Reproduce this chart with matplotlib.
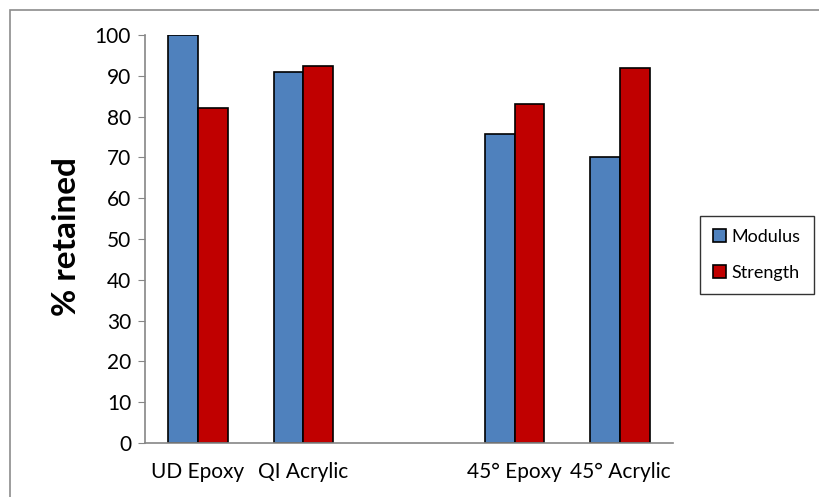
import numpy as np
import matplotlib
matplotlib.use("Agg")
import matplotlib.pyplot as plt
from matplotlib.patches import Rectangle

# data (third slot is an empty gap)
categories = ["UD Epoxy", "QI Acrylic", "", "45° Epoxy", "45° Acrylic"]
modulus = [100, 91, np.nan, 75.7, 70]
strength = [82, 92.5, np.nan, 83, 92]
yticks = [0, 10, 20, 30, 40, 50, 60, 70, 80, 90, 100]

plt.rcParams['font.family'] = ['Lato', 'DejaVu Sans']

fig = plt.figure(figsize=(8.19, 4.97), dpi=100)
ax = fig.add_axes([145 / 819, 54 / 497, 528 / 819, 408 / 497])

x = np.arange(len(categories))
w = 0.283
ax.bar(x - w / 2, modulus, w, color='#4F81BD', edgecolor='black', linewidth=1.2, label='Modulus')
ax.bar(x + w / 2, strength, w, color='#C00000', edgecolor='black', linewidth=1.2, label='Strength')

ax.set_xlim(-0.5, len(categories) - 0.5)
ax.set_ylim(0, 100)
ax.set_yticks(yticks)
ax.set_xticks(x)
ax.set_xticklabels(categories)
ax.tick_params(axis='x', length=0, pad=14, labelsize=15)
ax.tick_params(axis='y', length=5, color='#868686', pad=5, labelsize=15)

for s in ['top', 'right']:
    ax.spines[s].set_visible(False)
for s in ['left', 'bottom']:
    ax.spines[s].set_color('#868686')
    ax.spines[s].set_linewidth(1.2)

fig.text(66 / 819, 1 - 237 / 497, '% retained', rotation=90, fontsize=24,
         fontweight='bold', ha='center', va='center')

leg = fig.legend(loc='center', bbox_to_anchor=(757 / 819, 1 - 255 / 497),
                 fontsize=13, frameon=True, fancybox=False, handlelength=0.7,
                 handleheight=0.7, handletextpad=0.3, labelspacing=1.1,
                 borderpad=0.75, borderaxespad=0)
leg.get_frame().set_edgecolor('black')
leg.get_frame().set_linewidth(1.0)

# chart-area border, like the spreadsheet frame
fig.patches.append(Rectangle((10 / 819, -0.1), 1.0, 1.1 - 10 / 497, transform=fig.transFigure,
                             fill=False, edgecolor='#8C8C8C', linewidth=1.2))

fig.savefig('out.png', dpi=100)
